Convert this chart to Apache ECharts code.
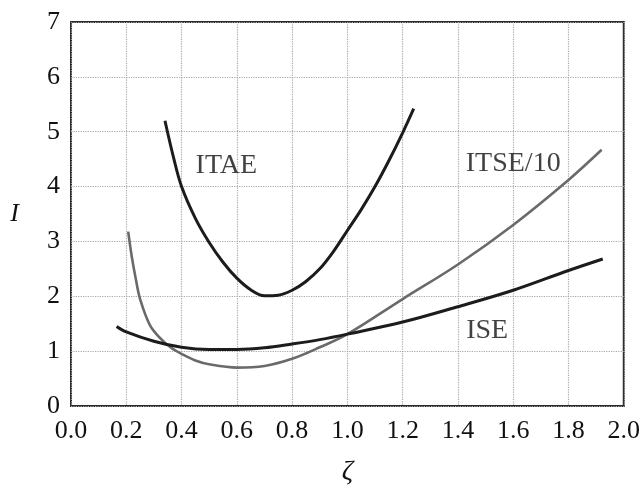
<!DOCTYPE html>
<html>
<head>
<meta charset="utf-8">
<script src="https://cdn.jsdelivr.net/npm/echarts@6/dist/echarts.min.js"></script>
<style>
html,body{margin:0;padding:0;background:#fff;}
#main{width:643px;height:491px;}
</style>
</head>
<body>
<div id="main"></div>
<script>
// Data
var xTicks = [0.0, 0.2, 0.4, 0.6, 0.8, 1.0, 1.2, 1.4, 1.6, 1.8, 2.0];
var yTicks = [0, 1, 2, 3, 4, 5, 6, 7];

var itaeX = [0.34, 0.37, 0.40, 0.45, 0.50, 0.55, 0.60, 0.65, 0.70, 0.75, 0.80, 0.85, 0.90, 0.95, 1.00, 1.05, 1.10, 1.15, 1.20, 1.24];
var itaeY = [5.20, 4.55, 4.00, 3.42, 2.98, 2.62, 2.33, 2.12, 2.01, 2.02, 2.11, 2.27, 2.50, 2.82, 3.20, 3.58, 4.00, 4.47, 4.98, 5.42];

var itseX = [0.207, 0.22, 0.235, 0.25, 0.285, 0.32, 0.36, 0.40, 0.45, 0.50, 0.60, 0.70, 0.80, 0.90, 1.00, 1.20, 1.40, 1.60, 1.80, 1.92];
var itseY = [3.18, 2.72, 2.30, 1.95, 1.48, 1.25, 1.07, 0.95, 0.83, 0.76, 0.70, 0.73, 0.86, 1.07, 1.31, 1.95, 2.58, 3.30, 4.12, 4.67];

var iseX = [0.165, 0.20, 0.30, 0.40, 0.50, 0.60, 0.70, 0.80, 0.90, 1.00, 1.20, 1.40, 1.60, 1.80, 1.924];
var iseY = [1.45, 1.35, 1.18, 1.07, 1.03, 1.03, 1.06, 1.13, 1.21, 1.31, 1.53, 1.81, 2.11, 2.47, 2.68];

var curveNames = ['ITAE', 'ITSE/10', 'ISE'];
var labelPos = [[0.562, 4.39], [1.60, 4.42], [1.506, 1.37]];

function pairs(xs, ys) { return xs.map(function (x, i) { return [x, ys[i]]; }); }

var serif = 'Liberation Serif, Times New Roman, serif';

function curve(name, xs, ys, color, width) {
  return {
    type: 'line',
    name: name,
    data: pairs(xs, ys),
    showSymbol: false,
    smooth: 0.35,
    lineStyle: { color: color, width: width },
    silent: true,
    z: 3
  };
}

var chart = echarts.init(document.getElementById('main'));
chart.setOption({
  animation: false,
  backgroundColor: '#fff',
  grid: {
    left: 71, right: 17, top: 22, bottom: 78,
    show: true, borderColor: '#2a2a2a', borderWidth: 2, backgroundColor: 'transparent'
  },
  xAxis: {
    type: 'value', min: xTicks[0], max: xTicks[xTicks.length - 1], interval: 0.2,
    name: 'ζ', nameLocation: 'middle', nameGap: 52,
    nameTextStyle: { fontFamily: serif, fontStyle: 'italic', fontSize: 28, color: '#111' },
    axisLine: { show: false },
    axisTick: { show: false },
    axisLabel: {
      fontFamily: serif, fontSize: 26, color: '#111', margin: 12,
      formatter: function (v) { return v.toFixed(1); }
    },
    splitLine: { show: true, lineStyle: { color: '#a8a8a8', type: 'dotted', width: 1.2 } }
  },
  yAxis: {
    type: 'value', min: yTicks[0], max: yTicks[yTicks.length - 1], interval: 1,
    name: 'I', nameLocation: 'middle', nameGap: 52, nameRotate: 0,
    nameTextStyle: { fontFamily: serif, fontStyle: 'italic', fontSize: 26, color: '#111' },
    axisLine: { show: false },
    axisTick: { show: false },
    axisLabel: { fontFamily: serif, fontSize: 26, color: '#111', margin: 11 },
    splitLine: { show: true, lineStyle: { color: '#a8a8a8', type: 'dotted', width: 1.2 } }
  },
  series: [
    curve(curveNames[0], itaeX, itaeY, '#1c1c1c', 3),
    curve(curveNames[1], itseX, itseY, '#6a6a6a', 2.6),
    curve(curveNames[2], iseX, iseY, '#1c1c1c', 3),
    {
      type: 'scatter',
      silent: true,
      symbolSize: 1,
      itemStyle: { color: 'rgba(0,0,0,0)' },
      data: labelPos.map(function (p, i) { return { value: p, name: curveNames[i] }; }),
      label: {
        show: true, position: 'inside', formatter: '{b}',
        fontFamily: serif, fontSize: 28, color: '#111', textBorderWidth: 0
      },
      z: 4
    }
  ]
});
</script>
</body>
</html>
